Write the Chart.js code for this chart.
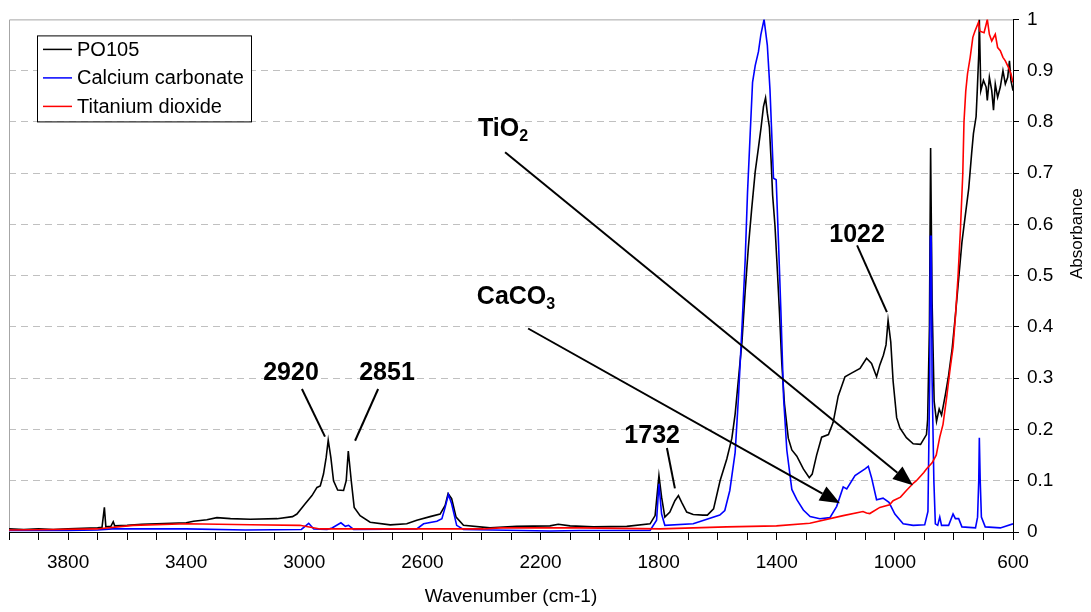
<!DOCTYPE html>
<html>
<head>
<meta charset="utf-8">
<title>FTIR spectrum PO105</title>
<script src="https://cdn.jsdelivr.net/npm/chart.js@4.4.1/dist/chart.umd.min.js"></script>
<style>
  html, body { margin: 0; padding: 0; background: #fff; }
  canvas { display: block; }
</style>
</head>
<body>
<canvas id="chart" width="1091" height="612"></canvas>
<script>
// wavenumbers (cm-1) and absorbance
const po105Wn = [4000, 3950, 3900, 3850, 3800, 3750, 3700, 3685, 3677, 3672, 3655, 3647, 3642, 3600, 3550, 3500, 3450, 3400, 3375, 3330, 3296, 3250, 3183, 3092, 3040, 3025, 2997, 2974, 2957, 2946, 2935, 2926, 2919, 2910, 2901, 2887, 2867, 2858, 2851, 2841, 2831, 2811, 2777, 2709, 2653, 2619, 2574, 2540, 2523, 2513, 2501, 2486, 2461, 2371, 2281, 2168, 2140, 2100, 2021, 1908, 1829, 1812, 1799, 1790, 1779, 1762, 1745, 1733, 1722, 1705, 1683, 1650, 1635, 1614, 1592, 1569, 1552, 1541, 1530, 1518, 1507, 1496, 1485, 1473, 1462, 1453, 1445, 1438, 1432, 1425, 1419, 1414, 1406, 1398, 1391, 1383, 1374, 1361, 1349, 1332, 1310, 1290, 1280, 1265, 1248, 1225, 1209, 1192, 1169, 1147, 1118, 1096, 1079, 1062, 1051, 1039, 1030, 1023, 1014, 1006, 994, 983, 961, 938, 913, 893, 889, 883, 879, 874, 867, 859, 850, 842, 829, 818, 806, 795, 784, 773, 761, 750, 740, 734, 725, 721, 716, 714, 709, 700, 691, 687, 680, 672, 666, 660, 652, 643, 634, 626, 618, 612, 607, 600];
const po105Abs = [0.006, 0.005, 0.006, 0.005, 0.006, 0.007, 0.008, 0.009, 0.048, 0.010, 0.011, 0.020, 0.012, 0.013, 0.015, 0.016, 0.017, 0.018, 0.021, 0.024, 0.028, 0.026, 0.025, 0.026, 0.030, 0.035, 0.055, 0.071, 0.087, 0.090, 0.113, 0.145, 0.179, 0.145, 0.100, 0.082, 0.081, 0.100, 0.158, 0.100, 0.048, 0.032, 0.019, 0.014, 0.016, 0.023, 0.030, 0.035, 0.052, 0.075, 0.065, 0.029, 0.013, 0.008, 0.011, 0.012, 0.015, 0.012, 0.010, 0.011, 0.016, 0.032, 0.110, 0.068, 0.029, 0.039, 0.061, 0.071, 0.058, 0.039, 0.034, 0.033, 0.033, 0.045, 0.100, 0.143, 0.183, 0.230, 0.297, 0.370, 0.470, 0.557, 0.630, 0.703, 0.750, 0.790, 0.830, 0.847, 0.817, 0.790, 0.723, 0.657, 0.597, 0.510, 0.430, 0.330, 0.250, 0.183, 0.160, 0.148, 0.123, 0.106, 0.113, 0.150, 0.185, 0.190, 0.214, 0.265, 0.303, 0.310, 0.319, 0.339, 0.329, 0.303, 0.326, 0.345, 0.365, 0.413, 0.371, 0.294, 0.223, 0.203, 0.184, 0.172, 0.171, 0.190, 0.220, 0.400, 0.749, 0.450, 0.255, 0.216, 0.240, 0.228, 0.268, 0.306, 0.358, 0.423, 0.494, 0.565, 0.620, 0.670, 0.739, 0.777, 0.810, 0.861, 0.932, 1.000, 0.861, 0.881, 0.868, 0.842, 0.887, 0.861, 0.823, 0.874, 0.848, 0.868, 0.900, 0.874, 0.887, 0.919, 0.881, 0.861];

const caco3Wn = [4000, 3800, 3700, 3650, 3400, 3200, 3010, 2985, 2968, 2923, 2906, 2876, 2861, 2850, 2833, 2619, 2596, 2551, 2534, 2523, 2512, 2501, 2484, 2461, 2168, 2067, 1829, 1807, 1799, 1790, 1779, 1683, 1593, 1576, 1559, 1541, 1530, 1518, 1507, 1499, 1490, 1482, 1473, 1462, 1454, 1443, 1432, 1423, 1411, 1402, 1394, 1386, 1377, 1366, 1349, 1332, 1310, 1287, 1254, 1220, 1197, 1175, 1163, 1135, 1101, 1090, 1079, 1062, 1040, 1020, 1000, 972, 938, 899, 888, 882, 880, 877, 874, 868, 863, 855, 848, 842, 818, 803, 795, 784, 773, 727, 720, 716, 714, 711, 707, 694, 643, 600];
const caco3Abs = [0.003, 0.003, 0.004, 0.006, 0.006, 0.004, 0.005, 0.017, 0.006, 0.005, 0.008, 0.018, 0.011, 0.013, 0.005, 0.006, 0.016, 0.021, 0.026, 0.048, 0.073, 0.055, 0.013, 0.005, 0.002, 0.003, 0.003, 0.023, 0.094, 0.035, 0.013, 0.016, 0.033, 0.042, 0.081, 0.155, 0.260, 0.397, 0.530, 0.663, 0.777, 0.877, 0.910, 0.937, 0.970, 1.000, 0.950, 0.863, 0.690, 0.687, 0.563, 0.430, 0.263, 0.160, 0.083, 0.063, 0.043, 0.030, 0.026, 0.028, 0.050, 0.088, 0.084, 0.110, 0.123, 0.128, 0.106, 0.063, 0.066, 0.058, 0.035, 0.016, 0.013, 0.014, 0.040, 0.300, 0.577, 0.577, 0.300, 0.100, 0.016, 0.013, 0.029, 0.013, 0.013, 0.035, 0.026, 0.026, 0.010, 0.008, 0.029, 0.100, 0.184, 0.100, 0.029, 0.010, 0.008, 0.016];

const tio2Wn = [4000, 3850, 3703, 3580, 3397, 3183, 3015, 2947, 2788, 2393, 2337, 2067, 1795, 1570, 1401, 1288, 1175, 1108, 1096, 1085, 1051, 1018, 1006, 981, 961, 936, 927, 902, 893, 874, 860, 848, 837, 825, 813, 803, 795, 786, 778, 770, 766, 760, 754, 745, 736, 729, 717, 712, 698, 691, 687, 680, 672, 660, 652, 643, 634, 626, 615, 607, 600];
const tio2Abs = [0.004, 0.005, 0.006, 0.013, 0.016, 0.014, 0.013, 0.006, 0.006, 0.006, 0.008, 0.008, 0.006, 0.010, 0.012, 0.017, 0.032, 0.040, 0.037, 0.036, 0.048, 0.053, 0.061, 0.068, 0.081, 0.096, 0.100, 0.116, 0.123, 0.135, 0.150, 0.185, 0.210, 0.261, 0.318, 0.360, 0.420, 0.500, 0.590, 0.700, 0.800, 0.860, 0.894, 0.926, 0.965, 0.977, 0.994, 0.977, 0.974, 0.990, 1.000, 0.971, 0.958, 0.971, 0.945, 0.939, 0.926, 0.919, 0.906, 0.894, 0.877];

const xTickLabels = [3800, 3400, 3000, 2600, 2200, 1800, 1400, 1000, 600];

// peak labels: text centre, leader line start and end, in wavenumber / absorbance
const peakNotes = [
  { text: '2920', at: [3045, 0.309], from: [3008, 0.279], to: [2930, 0.186] },
  { text: '2851', at: [2720, 0.309], from: [2750, 0.279], to: [2828, 0.178] },
  { text: '1732', at: [1822, 0.188], from: [1772, 0.164], to: [1745, 0.085] },
  { text: '1022', at: [1128, 0.580], from: [1128, 0.559], to: [1027, 0.429] }
];
const arrowNotes = [
  { text: 'TiO', sub: '2', at: [2327, 0.785], from: [2320, 0.741], to: [939, 0.091] },
  { text: 'CaCO', sub: '3', at: [2283, 0.458], from: [2242, 0.397], to: [1186, 0.056] }
];

const FONT = "'Liberation Sans', Arial, Helvetica, sans-serif";

function toPoints(wn, abs) {
  return wn.map((w, i) => ({ x: w, y: abs[i] }));
}

const framePlugin = {
  id: 'frame',
  beforeDatasetsDraw(chart) {
    const { ctx, chartArea: a } = chart;
    ctx.save();
    ctx.strokeStyle = '#a6a6a6';
    ctx.lineWidth = 1;
    ctx.beginPath();
    ctx.moveTo(a.left + 0.5, a.bottom);
    ctx.lineTo(a.left + 0.5, a.top + 0.5);
    ctx.lineTo(a.right, a.top + 0.5);
    ctx.stroke();
    ctx.restore();
  }
};

const notesPlugin = {
  id: 'notes',
  afterDatasetsDraw(chart) {
    const { ctx, scales: { x, y } } = chart;
    const px = p => [x.getPixelForValue(p[0]), y.getPixelForValue(p[1])];
    ctx.save();
    ctx.strokeStyle = '#000';
    ctx.fillStyle = '#000';
    ctx.lineWidth = 2;
    ctx.textBaseline = 'middle';

    peakNotes.forEach(n => {
      const [x1, y1] = px(n.from), [x2, y2] = px(n.to), [tx, ty] = px(n.at);
      ctx.beginPath();
      ctx.moveTo(x1, y1);
      ctx.lineTo(x2, y2);
      ctx.stroke();
      ctx.font = 'bold 25px ' + FONT;
      ctx.textAlign = 'center';
      ctx.fillText(n.text, tx, ty);
    });

    arrowNotes.forEach(n => {
      const [x1, y1] = px(n.from), [x2, y2] = px(n.to), [tx, ty] = px(n.at);
      const ang = Math.atan2(y2 - y1, x2 - x1);
      const len = 20, half = 8;
      const bx = x2 - len * Math.cos(ang), by = y2 - len * Math.sin(ang);
      ctx.beginPath();
      ctx.moveTo(x1, y1);
      ctx.lineTo(bx, by);
      ctx.stroke();
      ctx.beginPath();
      ctx.moveTo(x2, y2);
      ctx.lineTo(bx + half * Math.sin(ang), by - half * Math.cos(ang));
      ctx.lineTo(bx - half * Math.sin(ang), by + half * Math.cos(ang));
      ctx.closePath();
      ctx.fill();

      ctx.font = 'bold 25px ' + FONT;
      const wMain = ctx.measureText(n.text).width;
      ctx.font = 'bold 16px ' + FONT;
      const wSub = ctx.measureText(n.sub).width;
      const sx = tx - (wMain + wSub) / 2;
      ctx.textAlign = 'left';
      ctx.font = 'bold 25px ' + FONT;
      ctx.fillText(n.text, sx, ty);
      ctx.font = 'bold 16px ' + FONT;
      ctx.fillText(n.sub, sx + wMain, ty + 7);
    });
    ctx.restore();
  }
};

const legendPlugin = {
  id: 'boxLegend',
  afterDraw(chart) {
    const { ctx, chartArea: a } = chart;
    const order = ['PO105', 'Calcium carbonate', 'Titanium dioxide'];
    const left = a.left + 28, top = a.top + 16;
    ctx.save();
    ctx.fillStyle = '#fff';
    ctx.fillRect(left, top, 214, 86);
    ctx.strokeStyle = '#000';
    ctx.lineWidth = 1;
    ctx.strokeRect(left + 0.5, top + 0.5, 214, 86);
    ctx.font = '20px ' + FONT;
    ctx.textBaseline = 'middle';
    ctx.textAlign = 'left';
    order.forEach((label, i) => {
      const ds = chart.data.datasets.find(d => d.label === label);
      const cy = top + 14 + i * 28.5;
      ctx.strokeStyle = ds.borderColor;
      ctx.lineWidth = 1.5;
      ctx.beginPath();
      ctx.moveTo(left + 6, cy);
      ctx.lineTo(left + 35, cy);
      ctx.stroke();
      ctx.fillStyle = '#000';
      ctx.fillText(label, left + 40, cy + 1);
    });
    ctx.restore();
  }
};

const yTitlePlugin = {
  id: 'yTitle',
  afterDraw(chart) {
    const { ctx, chartArea: a } = chart;
    ctx.save();
    ctx.translate(a.right + 64, (a.top + a.bottom) / 2 - 42);
    ctx.rotate(-Math.PI / 2);
    ctx.font = '17px ' + FONT;
    ctx.fillStyle = '#000';
    ctx.textAlign = 'center';
    ctx.textBaseline = 'middle';
    ctx.fillText('Absorbance', 0, 0);
    ctx.restore();
  }
};

new Chart(document.getElementById('chart'), {
  type: 'line',
  data: {
    datasets: [
      { label: 'Titanium dioxide', data: toPoints(tio2Wn, tio2Abs), borderColor: '#ff0000' },
      { label: 'Calcium carbonate', data: toPoints(caco3Wn, caco3Abs), borderColor: '#0000ff' },
      { label: 'PO105', data: toPoints(po105Wn, po105Abs), borderColor: '#000000' }
    ]
  },
  options: {
    responsive: false,
    animation: false,
    events: [],
    layout: { padding: { left: 9, top: 15, right: 0, bottom: 0 } },
    elements: {
      point: { radius: 0 },
      line: { borderWidth: 1.6, tension: 0, fill: false }
    },
    plugins: {
      legend: { display: false },
      tooltip: { enabled: false }
    },
    scales: {
      x: {
        type: 'linear',
        reverse: true,
        min: 600,
        max: 4000,
        afterFit: s => {
          s.height = 80;
          s.paddingLeft = 0;
          s.paddingRight = 0;
        },
        ticks: {
          stepSize: 100,
          autoSkip: false,
          maxRotation: 0,
          padding: 11,
          color: '#000',
          font: { family: FONT, size: 19 },
          callback: v => xTickLabels.includes(v) ? String(v) : ''
        },
        grid: { drawOnChartArea: false, tickLength: 8, tickColor: '#000' },
        border: { color: '#000', width: 1 },
        title: {
          display: true,
          text: 'Wavenumber (cm-1)',
          color: '#000',
          font: { family: FONT, size: 19 },
          padding: { top: 0, bottom: 4 }
        }
      },
      y: {
        position: 'right',
        min: 0,
        max: 1,
        afterFit: s => { s.width = 78; },
        ticks: {
          stepSize: 0.1,
          padding: 8,
          color: '#000',
          font: { family: FONT, size: 19 },
          callback: v => String(Math.round(v * 10) / 10)
        },
        grid: {
          color: c => (c.tick && (c.tick.value === 0 || c.tick.value === 1)) ? 'rgba(0,0,0,0)' : '#c0c0c0',
          tickColor: '#000',
          tickLength: 6
        },
        border: { color: '#000', width: 1, dash: [7, 5] }
      }
    }
  },
  plugins: [framePlugin, notesPlugin, legendPlugin, yTitlePlugin]
});
</script>
</body>
</html>
